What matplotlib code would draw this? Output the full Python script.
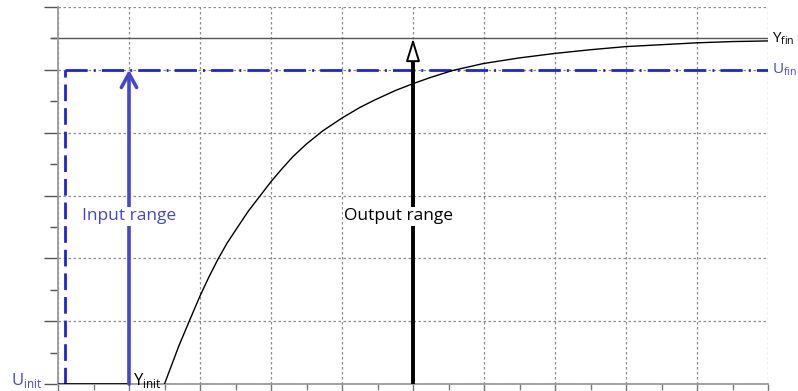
import matplotlib.pyplot as plt
from matplotlib.ticker import MultipleLocator

plt.rcParams['font.family'] = ['Open Sans', 'DejaVu Sans']
plt.rcParams['mathtext.fontset'] = 'custom'
plt.rcParams['mathtext.rm'] = 'Open Sans'

# step response
t = [1.5, 1.7, 1.86, 2.0, 2.12, 2.25, 2.38, 2.52, 2.68, 2.85, 3.0, 3.15, 3.31, 3.5,
     3.73, 4.01, 4.25, 4.46, 4.75, 5.0, 5.25, 5.56, 5.99, 6.5, 6.99, 7.5, 8.0,
     8.5, 9.0, 9.5, 10.0]
y = [0.0, 0.60, 1.03, 1.40, 1.69, 1.98, 2.24, 2.48, 2.75, 3.00, 3.22, 3.42, 3.62, 3.82,
     4.03, 4.24, 4.40, 4.52, 4.67, 4.78, 4.88, 4.99, 5.10, 5.19, 5.26, 5.32, 5.37,
     5.40, 5.43, 5.45, 5.46]

u_init, u_fin = 0.0, 5.0
y_init, y_fin = 0.0, 5.5
u_step_x = 0.1      # where the input steps
in_arrow_x = 1.0
out_arrow_x = 5.0

blue = '#2222d6'
blue_txt = '#4646cc'

fig = plt.figure(figsize=(7.98, 3.91), dpi=100)
ax = fig.add_axes([58 / 798, 7 / 391, 710 / 798, 377 / 391])
ax.set_xlim(0, 10)
ax.set_ylim(0, 6)

# grid and frame
ax.xaxis.set_major_locator(MultipleLocator(1))
ax.xaxis.set_minor_locator(MultipleLocator(0.5))
ax.yaxis.set_major_locator(MultipleLocator(1))
ax.yaxis.set_minor_locator(MultipleLocator(0.5))
ax.grid(True, which='major', color='#8c8c8c', linestyle=(0, (2, 2)), linewidth=0.9)
ax.tick_params(axis='y', which='major', direction='out', length=10, width=1, color='#555555')
ax.tick_params(axis='y', which='minor', direction='out', length=6, width=1, color='#555555')
ax.tick_params(axis='x', which='major', direction='out', length=5, width=1, color='#777777')
ax.tick_params(axis='x', which='minor', direction='out', length=4, width=1, color='#777777')
ax.set_xticklabels([])
ax.set_yticklabels([])
for side in ('top', 'right'):
    ax.spines[side].set_visible(False)
for side in ('left', 'bottom'):
    ax.spines[side].set_color('#9a9a9a')
    ax.spines[side].set_linewidth(1.3)

# final output level
ax.axhline(y_fin, color='#555555', linewidth=1, zorder=2)
ax.plot([-0.085, 0], [y_fin, y_fin], color='#555555', linewidth=1, clip_on=False)

# input signal
ax.plot([0, u_step_x], [u_init, u_init], color=blue, linewidth=2, zorder=3)
ax.plot([u_step_x, u_step_x], [u_init, u_fin], color=blue, linewidth=2,
        linestyle=(0, (6, 2.5)), zorder=3)
ax.plot([u_step_x, 10], [u_fin, u_fin], color=blue, linewidth=2,
        linestyle=(0, (8, 2.2, 0.7, 2.2)), zorder=3)

# output signal
ax.plot([u_step_x, in_arrow_x], [y_init, y_init], color='black', linewidth=1.2, zorder=4)
ax.plot(t, y, color='black', linewidth=1, zorder=4)

# input range arrow
ax.annotate('', xy=(in_arrow_x, u_fin), xytext=(in_arrow_x, u_init),
            arrowprops=dict(arrowstyle='->,head_length=1.0,head_width=0.55',
                            color=blue_txt, linewidth=2.6, shrinkA=0, shrinkB=0),
            zorder=5)
ax.text(in_arrow_x, 2.67, 'Input range', color=blue_txt, fontsize=12.5,
        ha='center', va='center', zorder=6,
        bbox=dict(facecolor='white', edgecolor='none', pad=1))

# output range arrow
ax.plot([out_arrow_x, out_arrow_x], [y_init, y_fin - 0.3], color='black',
        linewidth=2.8, solid_capstyle='butt', zorder=5)
ax.annotate('', xy=(out_arrow_x, y_fin), xytext=(out_arrow_x, y_fin - 0.32),
            arrowprops=dict(arrowstyle='-|>,head_length=1.4,head_width=0.43',
                            facecolor='white', edgecolor='black', linewidth=1.4,
                            shrinkA=0, shrinkB=0),
            zorder=6)
ax.text(out_arrow_x - 0.2, 2.67, 'Output range', color='black', fontsize=12.5,
        ha='center', va='center', zorder=7,
        bbox=dict(facecolor='white', edgecolor='none', pad=1))

# level labels
ax.text(-0.22, u_init + 0.05, r'U$_\mathrm{init}$', color=blue_txt, fontsize=12,
        ha='right', va='center', clip_on=False)
ax.text(1.05, y_init + 0.05, r'Y$_\mathrm{init}$', color='black', fontsize=12,
        ha='left', va='center', clip_on=False)
ax.text(10.05, u_fin, r'U$_\mathrm{fin}$', color=blue_txt, fontsize=11,
        ha='left', va='center', clip_on=False)
ax.text(10.05, y_fin, r'Y$_\mathrm{fin}$', color='black', fontsize=11,
        ha='left', va='center', clip_on=False)

fig.savefig('out.png', dpi=100)
